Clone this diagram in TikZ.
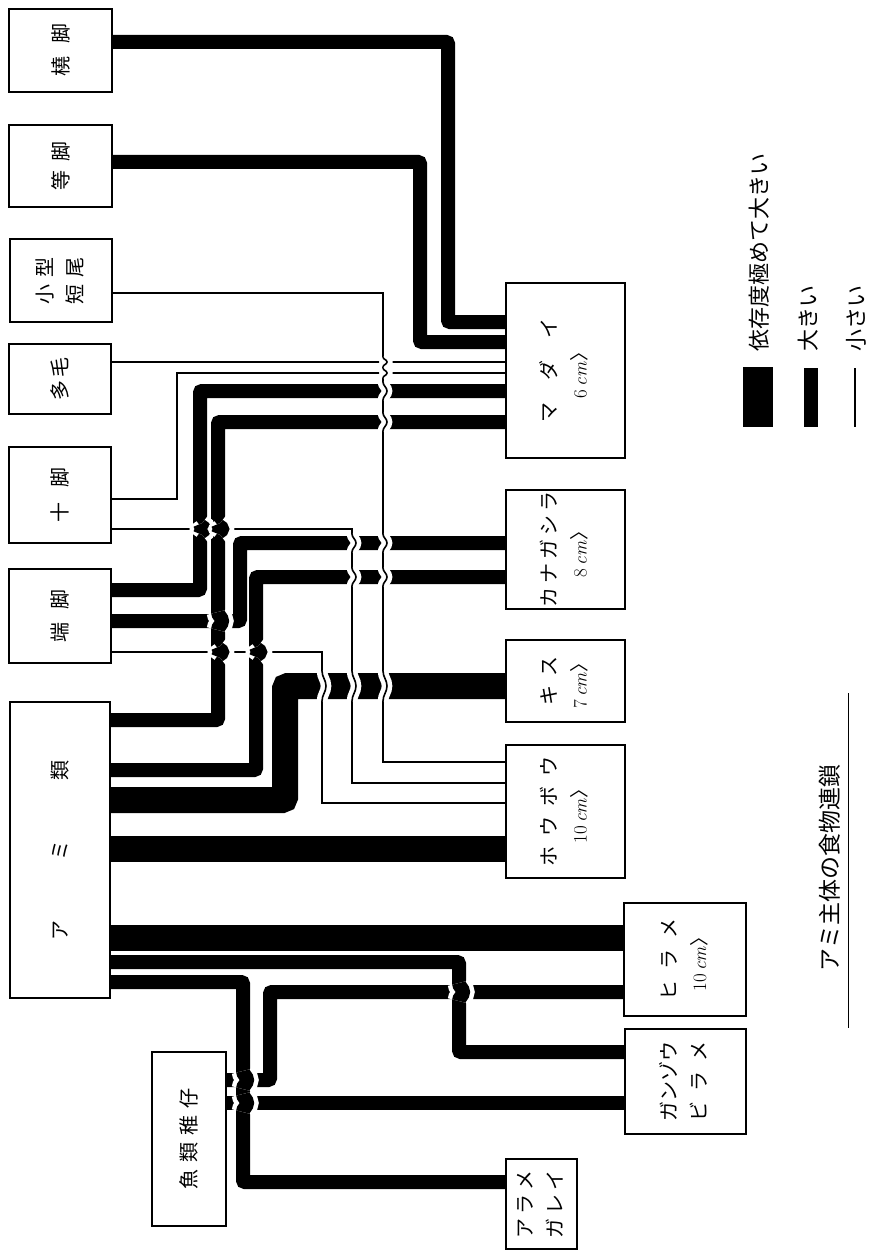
\documentclass[tikz,border=0pt]{standalone}
\usepackage{fontspec}
\usepackage{graphicx}
\newfontfamily\cjk{Noto Sans CJK JP}

% body length under the fish name
\newcommand{\bodylen}[1]{{\fontsize{19}{30}\selectfont\rmfamily #1\,\textit{cm}\cjk 〉}}
% one line hops over another
\newcommand{\hopover}[4]{%
  \draw[white,line width=#4+9pt] (#1,#2-#3) to[out=-90,in=90] (#1+4,#2) to[out=-90,in=90] (#1,#2+#3);
  \draw[line width=#4] (#1,#2-#3) to[out=-90,in=90] (#1+4,#2) to[out=-90,in=90] (#1,#2+#3);}

\begin{document}
\begin{tikzpicture}[
        x=1pt, y=-1pt,
        box/.style={
            draw=black,
            fill=white,
            line width=1.2pt,
            inner sep=0pt,
            font=\cjk\fontsize{20}{30}\selectfont
        },
        legend/.style={rotate=90, anchor=west, inner sep=0pt,
            font=\cjk\fontsize{22}{26}\selectfont},
        lvbig/.style={line width=26pt, rounded corners=3pt},
        lbig/.style={line width=14pt, rounded corners=2pt},
        lsmall/.style={line width=1.6pt}
    ]

    \useasboundingbox (0,0) rectangle (869,1252);
    \fill[white] (0,0) rectangle (869,1252);

    % Prey
    \node[box, minimum width=103pt, minimum height=83pt] (tojaku)   at (60.5,50.5) {\rotatebox{90}{橈\hspace{13pt}脚}};
    \node[box, minimum width=103pt, minimum height=82pt] (toukyaku) at (60.5,166)  {\rotatebox{90}{等\hspace{10pt}脚}};
    \node[box, minimum width=102pt, minimum height=83pt] (tanbi)    at (61,280.5)  {\rotatebox{90}{\begin{tabular}{@{}c@{}}小\hspace{7pt}型\\短\hspace{7pt}尾\end{tabular}}};
    \node[box, minimum width=102pt, minimum height=70pt] (tamou)    at (60,379)    {\rotatebox{90}{多\hspace{3pt}毛}};
    \node[box, minimum width=102pt, minimum height=96pt] (jukyaku)  at (60,495)    {\rotatebox{90}{十\hspace{15pt}脚}};
    \node[box, minimum width=102pt, minimum height=94pt] (tankyaku) at (60,616)    {\rotatebox{90}{端\hspace{13pt}脚}};
    \node[box, minimum width=100pt, minimum height=296pt] (ami)     at (60,850)    {\rotatebox{90}{ア\hspace{60pt}ミ\hspace{60pt}類}};
    \node[box, minimum width=74pt, minimum height=174pt] (chigyo)   at (189,1139)  {\rotatebox{90}{魚\hspace{7pt}類\hspace{7pt}稚\hspace{7pt}仔}};

    % Predators
    \node[box, minimum width=119pt, minimum height=175pt] (madai)       at (565.5,370.5) {\rotatebox{90}{\begin{tabular}{@{}c@{}}マ\hspace{22pt}ダ\hspace{22pt}イ\\\bodylen{6}\end{tabular}}};
    \node[box, minimum width=119pt, minimum height=119pt] (kanagashira) at (565.5,549.5) {\rotatebox{90}{\begin{tabular}{@{}c@{}}カ\hspace{4pt}ナ\hspace{4pt}ガ\hspace{4pt}シ\hspace{4pt}ラ\\\bodylen{8}\end{tabular}}};
    \node[box, minimum width=119pt, minimum height=82pt]  (kisu)        at (565.5,681)   {\rotatebox{90}{\begin{tabular}{@{}c@{}}キ\hspace{9pt}ス\\\bodylen{7}\end{tabular}}};
    \node[box, minimum width=119pt, minimum height=133pt] (houbou)      at (565.5,811.5) {\rotatebox{90}{\begin{tabular}{@{}c@{}}ホ\hspace{10pt}ウ\hspace{10pt}ボ\hspace{10pt}ウ\\\bodylen{10}\end{tabular}}};
    \node[box, minimum width=122pt, minimum height=113pt] (hirame)      at (685,959.5)   {\rotatebox{90}{\begin{tabular}{@{}c@{}}ヒ\hspace{11pt}ラ\hspace{11pt}メ\\\bodylen{10}\end{tabular}}};
    \node[box, minimum width=121pt, minimum height=105pt] (ganzou)      at (685.5,1081.5) {\rotatebox{90}{\begin{tabular}{@{}l@{}}\makebox[80pt][s]{ガ\hfil ン\hfil ゾ\hfil ウ}\\\makebox[80pt][s]{ビ\hfil ラ\hfil メ}\end{tabular}}};
    \node[box, minimum width=71pt, minimum height=90pt]   (arame)       at (541.5,1204)  {\rotatebox{90}{\begin{tabular}{@{}l@{}}ア\hspace{4pt}ラ\hspace{4pt}メ\\ガ\hspace{4pt}レ\hspace{4pt}イ\end{tabular}}};

    % to madai
    \draw[lbig]   (tojaku.east |- 0,42)    -| (448,322) -- (madai.west |- 0,322);
    \draw[lbig]   (toukyaku.east |- 0,162) -| (420,342) -- (madai.west |- 0,342);
    \draw[lsmall] (tamou.east |- 0,362)    -- (madai.west |- 0,362);
    \draw[lsmall] (jukyaku.east |- 0,499)  -| (177,373) -- (madai.west |- 0,373);
    \draw[lbig]   (tankyaku.east |- 0,590) -| (200,391) -- (madai.west |- 0,391);
    \draw[lbig]   (ami.east |- 0,720)      -| (218,422) -- (madai.west |- 0,422);
    % to kanagashira
    \draw[lbig]   (tankyaku.east |- 0,621) -| (240,543) -- (kanagashira.west |- 0,543);
    \draw[lbig]   (ami.east |- 0,770)      -| (256,577) -- (kanagashira.west |- 0,577);
    % to kisu
    \draw[lvbig]  (ami.east |- 0,800)      -| (285,686) -- (kisu.west |- 0,686);
    % to houbou
    \draw[lsmall] (tanbi.east |- 0,293)    -| (383,762) -- (houbou.west |- 0,762);
    \draw[lsmall] (jukyaku.east |- 0,529)  -| (352,783) -- (houbou.west |- 0,783);
    \draw[lsmall] (tankyaku.east |- 0,652) -| (322,803) -- (houbou.west |- 0,803);
    \draw[lvbig]  (ami.east |- 0,849)      -- (houbou.west |- 0,849);
    % to hirame
    \draw[lvbig]  (ami.east |- 0,938)      -- (hirame.west |- 0,938);
    \draw[lbig]   (chigyo.east |- 0,1080)  -| (270,992) -- (hirame.west |- 0,992);
    % to ganzou
    \draw[lbig]   (ami.east |- 0,962)      -| (459,1052) -- (ganzou.west |- 0,1052);
    \draw[lbig]   (chigyo.east |- 0,1103)  -- (ganzou.west |- 0,1103);
    % to arame
    \draw[lbig]   (ami.east |- 0,982)      -| (243,1182) -- (arame.west |- 0,1182);

    % crossings
    \hopover{383}{362}{5}{1.6pt}
    \hopover{383}{373}{5}{1.6pt}
    \hopover{383}{391}{9}{1.6pt}
    \hopover{383}{422}{9}{1.6pt}
    \hopover{383}{543}{9}{1.6pt}
    \hopover{383}{577}{9}{1.6pt}
    \hopover{383}{686}{15}{1.6pt}
    \hopover{352}{543}{9}{1.6pt}
    \hopover{352}{577}{9}{1.6pt}
    \hopover{352}{686}{15}{1.6pt}
    \hopover{322}{686}{15}{1.6pt}
    \hopover{200}{529}{5}{14pt}
    \hopover{218}{529}{5}{14pt}
    \hopover{218}{621}{9}{14pt}
    \hopover{218}{652}{5}{14pt}
    \hopover{256}{652}{5}{14pt}
    \hopover{459}{992}{9}{14pt}
    \hopover{243}{1080}{9}{14pt}
    \hopover{243}{1103}{9}{14pt}

    % Legend
    \fill (743,367) rectangle (773,427);
    \fill (804,368) rectangle (818,427);
    \draw[lsmall] (855,368) -- (855,427);
    \node[legend] (kmax)   at (759,352) {依存度極めて大きい};
    \node[legend] (kbig)   at (808,352) {大きい};
    \node[legend] (ksmall) at (856,352) {小さい};

    % Title
    \node[rotate=90, inner sep=0pt, font=\cjk\fontsize{23}{26}\selectfont] (title) at (830,868) {アミ主体の食物連鎖};
    \draw[line width=1pt] (848,693) -- (848,1028);

\end{tikzpicture}
\end{document}
